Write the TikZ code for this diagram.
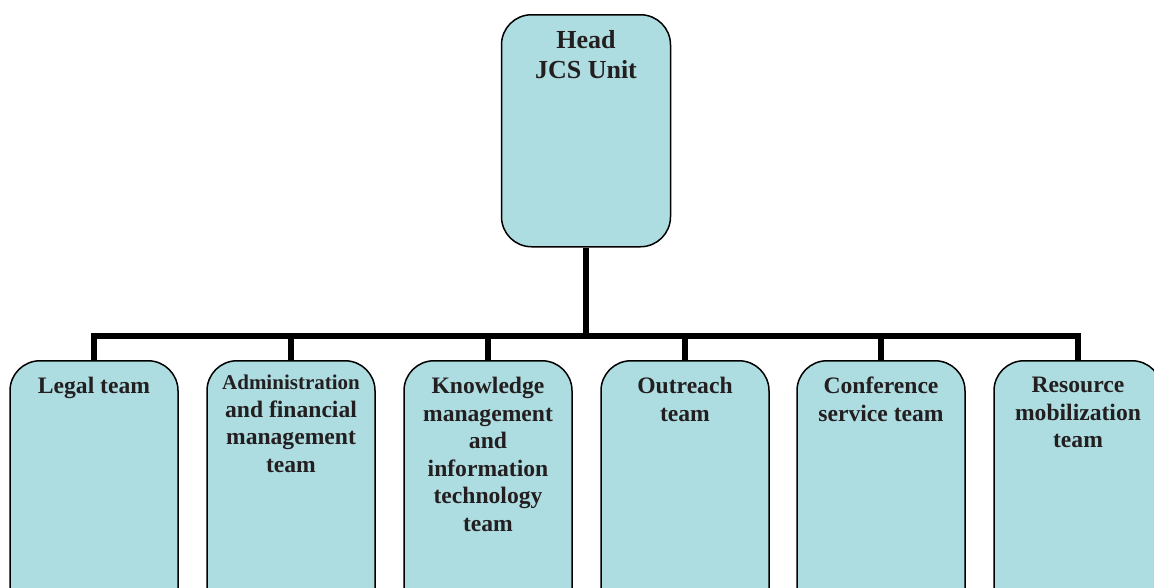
\documentclass[tikz,border=0pt]{standalone}
\usepackage{fontspec}
\setmainfont{Liberation Serif}
\definecolor{boxfill}{RGB}{174,221,225}
\definecolor{txt}{RGB}{35,31,32}
\begin{document}
\begin{tikzpicture}[x=1pt,y=-1pt,
  box/.style={draw=black, line width=1.5pt, fill=boxfill, rounded corners=30pt,
    minimum width=168pt, minimum height=260pt, inner sep=0pt, anchor=north},
  lbl/.style={anchor=north, inner sep=0pt, align=center, text=txt,
    font=\bfseries\fontsize{23.6}{27.6}\selectfont},
  headlbl/.style={lbl, font=\bfseries\fontsize{26}{30}\selectfont},
  conn/.style={line width=5.5pt, line join=miter}]
\clip (0,0) rectangle (1154,587);
% head
\node[box, minimum width=169pt, minimum height=232pt] (head) at (586,14) {};
\node[headlbl] (headt) at (586,30.5) {Head\\JCS Unit};
% teams
\node[box] (legal) at (94,360) {};
\node[box] (admin) at (291,360) {};
\node[box] (know) at (488,360) {};
\node[box] (outreach) at (685,360) {};
\node[box] (conf) at (881,360) {};
\node[box] (resource) at (1078,360) {};
\node[lbl] (legalt) at (94,377) {Legal team};
\node[lbl] (admint) at (291,375) {{\fontsize{21}{27.6}\selectfont Administration}\\and financial\\management\\team};
\node[lbl] (knowt) at (488,377) {Knowledge\\management\\and\\information\\technology\\team};
\node[lbl] (outreacht) at (685,377) {Outreach\\team};
\node[lbl] (conft) at (881,377) {Conference\\service team};
\node[lbl] (resourcet) at (1078,377) {Resource\\mobilization\\team};
% connectors
\coordinate (j) at (586,336);
\draw[conn] (head.south) -- (j);
\foreach \n in {legal,admin,know,outreach,conf,resource}
  \draw[conn] (\n.north) |- (j);
\end{tikzpicture}
\end{document}
